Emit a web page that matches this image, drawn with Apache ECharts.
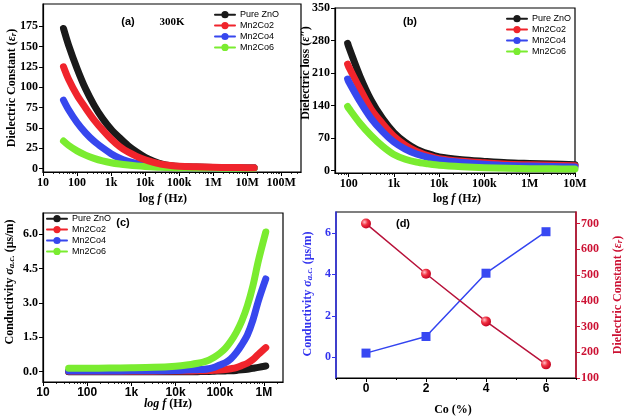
<!DOCTYPE html>
<html><head><meta charset="utf-8">
<script src="https://cdn.jsdelivr.net/npm/echarts@6/dist/echarts.min.js"></script>
<style>html,body{margin:0;padding:0;background:#fff}#c{width:626px;height:417px}</style>
</head><body><div id="c"></div>
<script>
// ---------- DATA ----------
const seriesNames = ['Pure ZnO', 'Mn2Co2', 'Mn2Co4', 'Mn2Co6'];

// (a) dielectric constant vs frequency (Hz)
const freqA = [40, 56, 100, 178, 316, 562, 1000, 1778, 3162, 5623, 10000, 17783, 31623, 56234, 100000, 316228, 1000000, 3162278, 10000000, 16000000];
const epsA_ZnO = [172, 152, 123, 98, 78, 61.5, 48.4, 37.9, 28.3, 20.7, 14.1, 9.3, 5.6, 3.8, 2.8, 2.1, 1.6, 1.4, 1.2, 1.2];
const epsA_Co2 = [125, 110, 90, 74.5, 60, 47.7, 36.6, 27.4, 20.4, 15.2, 11, 7.9, 5.3, 3.9, 3.0, 2.3, 1.8, 1.5, 1.3, 1.3];
const epsA_Co4 = [84, 72.6, 56.7, 44, 33.8, 25.7, 18.5, 12.9, 9.1, 6.4, 4.5, 3.2, 2.5, 1.9, 1.5, 1.2, 1.0, 0.9, 0.8, 0.8];
const epsA_Co6 = [34, 28.8, 21.9, 16.7, 12.7, 9.6, 7.4, 5.8, 4.55, 3.5, 2.7, 2.1, 1.7, 1.4, 1.2, 1.0, 0.8, 0.7, 0.6, 0.6];

// (b) dielectric loss vs frequency (Hz)
const freqB = [95, 100, 178, 316, 562, 1000, 1778, 3162, 5623, 10000, 31623, 100000, 316228, 1000000, 3162278, 10000000];
const lossB_ZnO = [274, 267, 203, 151, 112, 82, 61, 46, 36.6, 29.4, 23.5, 20, 17, 15.5, 14.2, 13];
const lossB_Co2 = [229, 224, 176, 132, 101, 74, 55, 41.4, 32.4, 25.7, 20.1, 16.8, 14, 12.7, 11.6, 10.5];
const lossB_Co4 = [197, 192, 149, 112, 84, 61.5, 46.3, 35.7, 28.5, 23.1, 17.6, 13.9, 11, 9.9, 8.9, 8];
const lossB_Co6 = [138, 134.5, 102, 75, 52.4, 34.8, 24.6, 18.3, 14.7, 11.7, 8.6, 6.5, 5, 4.4, 3.9, 3.5];

// (c) ac conductivity (µs/m) vs frequency (Hz)
const freqC = [38, 100, 316, 1000, 3162, 10000, 17783, 31623, 42170, 56234, 74989, 100000, 133352, 177828, 237137, 316228, 421697, 562341, 749894, 1100000];
const condC_ZnO = [0, 0, 0, 0, 0, 0, 0, 0, 0.01, 0.01, 0.02, 0.03, 0.035, 0.04, 0.055, 0.08, 0.11, 0.15, 0.19, 0.25];
const condC_Co2 = [0.02, 0.02, 0.02, 0.02, 0.02, 0.03, 0.03, 0.04, 0.04, 0.05, 0.06, 0.07, 0.09, 0.13, 0.18, 0.27, 0.37, 0.53, 0.76, 1.05];
const condC_Co4 = [0.03, 0.03, 0.03, 0.04, 0.04, 0.05, 0.07, 0.09, 0.1, 0.13, 0.19, 0.29, 0.39, 0.56, 0.83, 1.18, 1.6, 2.25, 3.1, 4.05];
const condC_Co6 = [0.15, 0.15, 0.16, 0.17, 0.19, 0.24, 0.29, 0.37, 0.42, 0.5, 0.63, 0.8, 1.02, 1.33, 1.72, 2.22, 2.88, 3.75, 4.85, 6.1];

// (d) vs Co content (%)
const coX = [0, 2, 4, 6];
const condD = [0.2, 1.0, 4.05, 6.05];
const epsD = [700, 505, 320, 153];

// tick labels
const ticksA = [10, 100, 1e3, 1e4, 1e5, 1e6, 1e7, 1e8];
const ticksB = [100, 1e3, 1e4, 1e5, 1e6, 1e7];
const ticksC = [10, 100, 1e3, 1e4, 1e5, 1e6];
const hzLabels = { 1: '10', 2: '100', 3: '1k', 4: '10k', 5: '100k', 6: '1M', 7: '10M', 8: '100M' };
const yTicksA = [0, 25, 50, 75, 100, 125, 150, 175];
const yTicksB = [0, 70, 140, 210, 280, 350];
const yTicksC = [0, 1.5, 3.0, 4.5, 6.0];
const xTicksD = [0, 2, 4, 6];
const xMinorD = [-1, 1, 3, 5, 7];
const yTicksDL = [0, 2, 4, 6];
const yTicksDR = [100, 200, 300, 400, 500, 600, 700];

// ---------- STYLE ----------
const SERIF = '"Liberation Serif", "Times New Roman", serif';
const SANS = '"Liberation Sans", Arial, sans-serif';
const colors = { 'Pure ZnO': '#1a1a1a', 'Mn2Co2': '#f0242c', 'Mn2Co4': '#3747ee', 'Mn2Co6': '#7aec30' };

function minorLog(lo, hi) {
  const out = [];
  for (let k = 0; k <= 9; k++) for (let m = 2; m <= 9; m++) {
    const v = m * Math.pow(10, k);
    if (v > lo && v < hi) out.push(v);
  }
  return out;
}
const fmtHz = v => hzLabels[Math.round(Math.log10(v))] || '';

function logAxis(grid, min, max, ticks, font) {
  return {
    type: 'log', logBase: 10, gridIndex: grid, min: min, max: max,
    axisLine: { show: true, onZero: false, lineStyle: { color: '#000', width: 1.2 } },
    axisTick: { show: true, customValues: ticks, length: 4, lineStyle: { color: '#000', width: 1 } },
    axisLabel: { customValues: ticks, formatter: fmtHz, fontFamily: font, fontWeight: 'bold', fontSize: 12, color: '#000', margin: 5 },
    splitLine: { show: false }, minorTick: { show: false }
  };
}
function minorLogAxis(grid, min, max) {
  return {
    type: 'log', logBase: 10, gridIndex: grid, min: min, max: max, position: 'bottom',
    axisLine: { show: false, onZero: false },
    axisTick: { show: true, customValues: minorLog(min, max), length: 2, lineStyle: { color: '#000', width: 0.8 } },
    axisLabel: { show: false }, splitLine: { show: false }
  };
}
function valAxis(grid, min, max, ticks, opts) {
  opts = opts || {};
  const color = opts.color || '#000';
  return {
    type: 'value', gridIndex: grid, min: min, max: max, position: opts.position || 'left',
    axisLine: { show: true, onZero: false, lineStyle: { color: color, width: opts.lw || 1.2 } },
    axisTick: { show: true, customValues: ticks, length: 4, lineStyle: { color: color, width: 1 } },
    axisLabel: { customValues: ticks, formatter: opts.fmt, fontFamily: opts.font || SERIF, fontWeight: 'bold', fontSize: 12, color: color, margin: opts.margin || 5 },
    splitLine: { show: false }
  };
}

const zip = (xs, ys) => xs.map((x, i) => [x, ys[i]]);
function band(name, xi, yi, xs, ys) {
  return {
    type: 'line', name: name, xAxisIndex: xi, yAxisIndex: yi, data: zip(xs, ys),
    symbol: 'circle', showSymbol: false, smooth: 0.3,
    lineStyle: { width: 7, color: colors[name], cap: 'round', join: 'round' },
    itemStyle: { color: colors[name] }, silent: true, emphasis: { disabled: true }
  };
}

function legendAt(left, top) {
  return {
    data: seriesNames, orient: 'vertical', left: left, top: top, itemWidth: 20, itemHeight: 9,
    itemGap: 1.5, selectedMode: false, padding: 0,
    textStyle: { fontFamily: SANS, fontSize: 9, color: '#000', lineHeight: 9.4 },
    lineStyle: { width: 2 }
  };
}

function txt(x, y, text, o) {
  o = o || {};
  return {
    type: 'text', x: x, y: y, rotation: o.rot || 0, silent: true,
    style: {
      text: text, fill: o.color || '#000', fontFamily: o.font || SERIF, fontWeight: 'bold',
      fontSize: o.size || 12, align: 'center', verticalAlign: 'middle', rich: o.rich || {}
    }
  };
}
function richSet(color, size) {
  return {
    b: { fontFamily: SERIF, fontWeight: 'bold', fontSize: size, fill: color, color: color },
    i: { fontFamily: SERIF, fontWeight: 'bold', fontStyle: 'italic', fontSize: size, fill: color, color: color },
    s: { fontFamily: SERIF, fontWeight: 'bold', fontStyle: 'italic', fontSize: size - 3, fill: color, color: color, verticalAlign: 'bottom' }
  };
}

const A_MIN = 10, A_MAX = 3.8e8, B_MIN = 50, B_MAX = 1e7, C_MIN = 10, C_MAX = 2.7e6;

const option = {
  animation: false,
  backgroundColor: '#fff',
  grid: [
    { left: 43, top: 4, width: 258, height: 168, show: true, borderColor: '#000', borderWidth: 1.2, containLabel: false },
    { left: 335, top: 8, width: 240, height: 165, show: true, borderColor: '#000', borderWidth: 1.2, containLabel: false },
    { left: 43, top: 213, width: 240, height: 169, show: true, borderColor: '#000', borderWidth: 1.2, containLabel: false },
    { left: 336, top: 212, width: 240, height: 166, show: true, borderColor: '#000', borderWidth: 1.2, containLabel: false }
  ],
  xAxis: [
    logAxis(0, A_MIN, A_MAX, ticksA, SERIF),
    logAxis(1, B_MIN, B_MAX, ticksB, SERIF),
    logAxis(2, C_MIN, C_MAX, ticksC, SANS),
    Object.assign(valAxis(3, -1, 7, xTicksD, { font: SANS }), { position: 'bottom' }),
    minorLogAxis(0, A_MIN, A_MAX),
    minorLogAxis(1, B_MIN, B_MAX),
    minorLogAxis(2, C_MIN, C_MAX),
    { type: 'value', gridIndex: 3, min: -1, max: 7, position: 'bottom',
      axisLine: { show: false, onZero: false },
      axisTick: { show: true, customValues: xMinorD, length: 2, lineStyle: { color: '#000' } },
      axisLabel: { show: false }, splitLine: { show: false } }
  ],
  yAxis: [
    valAxis(0, -4, 202, yTicksA),
    valAxis(1, -5, 350, yTicksB),
    valAxis(2, -0.45, 6.93, yTicksC, { fmt: v => Number(v).toFixed(1) }),
    valAxis(3, -1, 7, yTicksDL, { color: '#3333ee', lw: 1.5 }),
    valAxis(3, 100, 745, yTicksDR, { color: '#cc1133', lw: 1.5, position: 'right' })
  ],
  legend: [legendAt(214, 10), legendAt(506, 14), legendAt(46, 214)],
  series: [
    // (a) — red drawn last
    band('Pure ZnO', 0, 0, freqA, epsA_ZnO),
    band('Mn2Co4', 0, 0, freqA, epsA_Co4),
    band('Mn2Co6', 0, 0, freqA, epsA_Co6),
    band('Mn2Co2', 0, 0, freqA, epsA_Co2),
    // (b)
    band('Pure ZnO', 1, 1, freqB, lossB_ZnO),
    band('Mn2Co2', 1, 1, freqB, lossB_Co2),
    band('Mn2Co4', 1, 1, freqB, lossB_Co4),
    band('Mn2Co6', 1, 1, freqB, lossB_Co6),
    // (c)
    band('Pure ZnO', 2, 2, freqC, condC_ZnO),
    band('Mn2Co2', 2, 2, freqC, condC_Co2),
    band('Mn2Co4', 2, 2, freqC, condC_Co4),
    band('Mn2Co6', 2, 2, freqC, condC_Co6),
    // (d)
    { type: 'line', name: 'cond', xAxisIndex: 3, yAxisIndex: 3, data: zip(coX, condD),
      symbol: 'rect', symbolSize: 9, lineStyle: { color: '#3344f0', width: 1.5 },
      itemStyle: { color: '#3848f2' }, silent: true },
    { type: 'line', name: 'eps', xAxisIndex: 3, yAxisIndex: 4, data: zip(coX, epsD),
      symbol: 'circle', symbolSize: 10, lineStyle: { color: '#b8123a', width: 1.5 },
      itemStyle: { color: { type: 'radial', x: 0.35, y: 0.35, r: 0.7,
        colorStops: [{ offset: 0, color: '#ffc0c8' }, { offset: 0.45, color: '#f03040' }, { offset: 1, color: '#c00020' }] } },
      silent: true }
  ],
  graphic: [
    txt(128, 22, '(a)', { font: SANS, size: 11 }),
    txt(172, 22, '300K', { size: 11 }),
    txt(410, 22, '(b)', { font: SANS, size: 11 }),
    txt(123, 223, '(c)', { font: SANS, size: 11 }),
    txt(403, 224, '(d)', { font: SANS, size: 11 }),
    // axis titles
    txt(12, 88, '{b|Dielectric Constant (}{i|ε}{s|r}{b|)}', { rot: Math.PI / 2, rich: richSet('#000', 12) }),
    txt(163, 199, '{b|log }{i|f}{b| (Hz)}', { rich: richSet('#000', 12) }),
    txt(306, 73, '{b|Dielectric loss (}{i|ε}{b|″)}', { rot: Math.PI / 2, rich: richSet('#000', 12) }),
    txt(457, 199, '{b|log }{i|f}{b| (Hz)}', { rich: richSet('#000', 12) }),
    txt(10, 282, '{b|Conductivity }{i|σ}{s|a.c.}{b| (μs/m)}', { rot: Math.PI / 2, rich: richSet('#000', 12) }),
    txt(168, 404, '{i|log f}{b| (Hz)}', { rich: richSet('#000', 12) }),
    txt(308, 294, '{b|Conductivity }{i|σ}{s|a.c.}{b| (μs/m)}', { rot: Math.PI / 2, rich: richSet('#3333ee', 12) }),
    txt(618, 295, '{b|Dielectric Constant (}{i|ε}{s|r}{b|)}', { rot: Math.PI / 2, rich: richSet('#cc1133', 12) }),
    txt(453, 410, '{b|Co (%)}', { rich: richSet('#000', 12) })
  ]
};

const chart = echarts.init(document.getElementById('c'), null, { renderer: 'canvas' });
chart.setOption(option);
</script>
</body></html>
